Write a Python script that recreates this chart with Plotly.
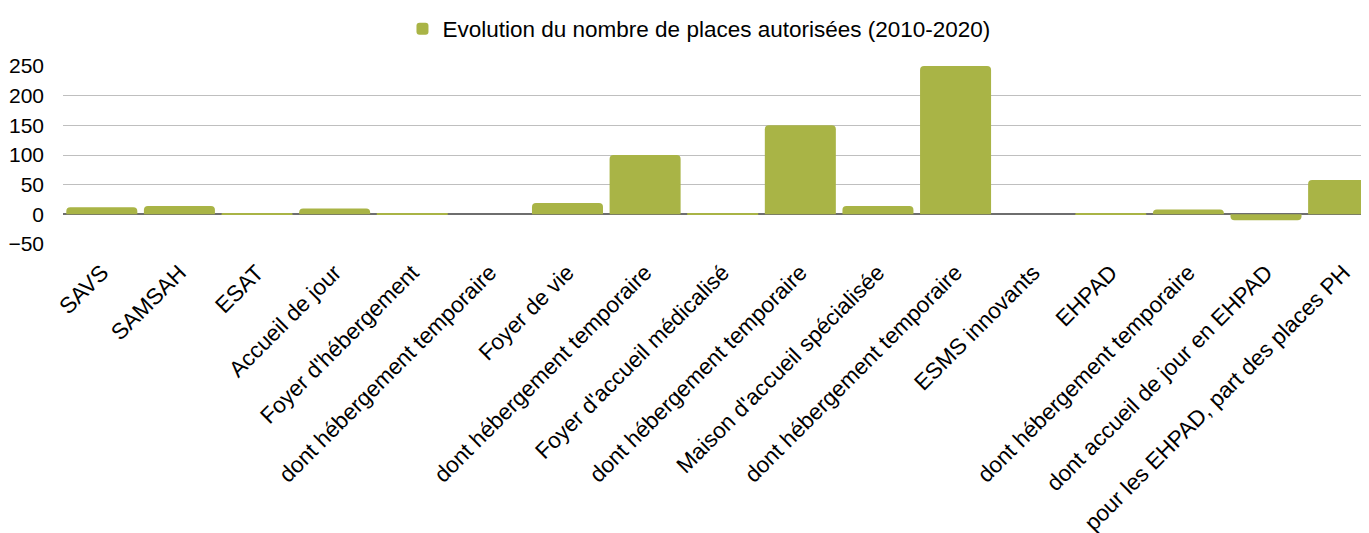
import plotly.graph_objects as go

categories = [
    "SAVS", "SAMSAH", "ESAT", "Accueil de jour", "Foyer d'hébergement",
    "dont hébergement temporaire", "Foyer de vie", "dont hébergement temporaire",
    "Foyer d'accueil médicalisé", "dont hébergement temporaire",
    "Maison d'accueil spécialisée", "dont hébergement temporaire",
    "ESMS innovants", "EHPAD", "dont hébergement temporaire",
    "dont accueil de jour en EHPAD", "pour les EHPAD, part des places PH",
]
values = [12, 14, 2, 10, 1, 0, 19, 100, 1, 150, 14, 250, 0, 2, 8, -10, 58]
series_name = "Evolution du nombre de places autorisées (2010-2020)"
y_ticks = [-50, 0, 50, 100, 150, 200, 250]

positions = list(range(len(categories)))
FONT = "Liberation Sans, Arial, sans-serif"
GREEN = "#a9b446"

fig = go.Figure()
fig.add_trace(go.Bar(
    x=positions, y=values, name=series_name,
    marker=dict(color=GREEN, cornerradius=4, line=dict(width=0)),
    showlegend=True,
))

fig.update_layout(
    width=1369, height=533,
    margin=dict(l=55, r=0, t=58, b=297, autoexpand=False),
    paper_bgcolor="white", plot_bgcolor="white",
    font=dict(family=FONT, size=21, color="#000000"),
    bargap=0.085,
    showlegend=True,
    legend=dict(
        orientation="h", x=0.484, xanchor="center",
        yref="container", y=1 - 21 / 533, yanchor="middle",
        font=dict(family=FONT, size=22.5, color="#000000"),
        itemwidth=30,
    ),
    xaxis=dict(
        range=[-0.5, 16.43],
        tickmode="array", tickvals=positions, ticktext=categories,
        tickangle=-45, showgrid=False, zeroline=False, showline=False,
        ticks="", ticklabelstandoff=10,
        tickfont=dict(family=FONT, size=22.5, color="#000000"),
    ),
    yaxis=dict(
        range=[-50, 250], tickmode="array", tickvals=y_ticks,
        showgrid=True, gridcolor="#bfbfbf", gridwidth=1.4,
        zeroline=True, zerolinecolor="#6e6e6e", zerolinewidth=2,
        showline=False, ticks="", ticklabelstandoff=18,
        tickfont=dict(family=FONT, size=21, color="#000000"),
    ),
)

fig.write_html("out.html")
